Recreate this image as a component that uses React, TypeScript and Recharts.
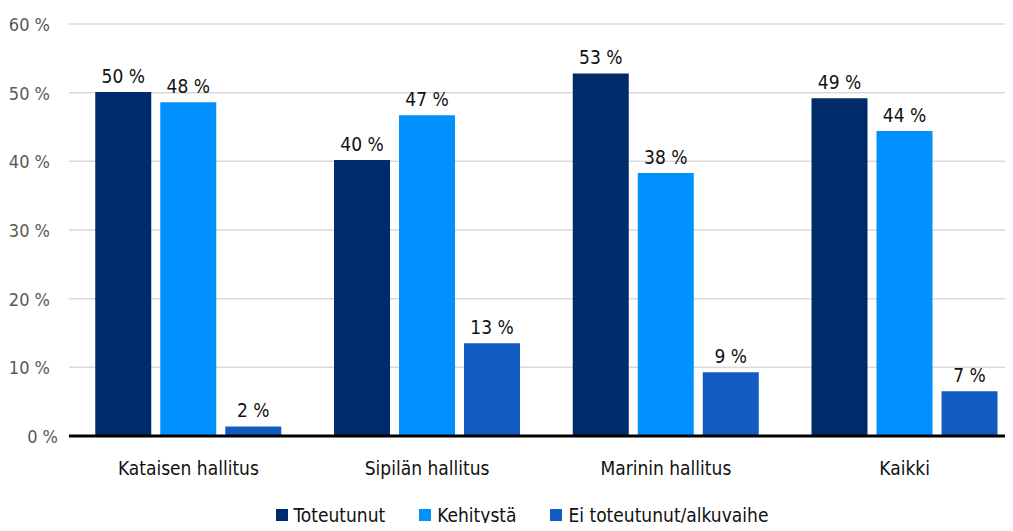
import { Bar, BarChart, CartesianGrid, LabelList, Legend, XAxis, YAxis } from 'recharts';

const governments = ['Kataisen hallitus', 'Sipilän hallitus', 'Marinin hallitus', 'Kaikki'];
const toteutunut = [50.1, 40.2, 52.8, 49.2];
const kehitysta = [48.6, 46.7, 38.3, 44.4];
const eiToteutunut = [1.4, 13.5, 9.3, 6.5];
const toteutunutLabels = ['50 %', '40 %', '53 %', '49 %'];
const kehitystaLabels = ['48 %', '47 %', '38 %', '44 %'];
const eiToteutunutLabels = ['2 %', '13 %', '9 %', '7 %'];
const yTicks = [0, 10, 20, 30, 40, 50, 60];

const FONT = '"Liberation Sans Narrow", "DejaVu Sans Condensed", "Roboto Condensed", "Noto Sans", sans-serif';

const series = [
  { key: 'toteutunut', name: 'Toteutunut', color: '#002b6b', values: toteutunut, labels: toteutunutLabels },
  { key: 'kehitysta', name: 'Kehitystä', color: '#0091ff', values: kehitysta, labels: kehitystaLabels },
  { key: 'eiToteutunut', name: 'Ei toteutunut/alkuvaihe', color: '#125bc0', values: eiToteutunut, labels: eiToteutunutLabels },
];

const data = governments.map((name, i) => ({
  name,
  toteutunut: toteutunut[i],
  kehitysta: kehitysta[i],
  eiToteutunut: eiToteutunut[i],
}));

function YTick({ x, y, payload }: { x?: number; y?: number; payload?: { value: number } }) {
  const v = payload?.value ?? 0;
  return (
    <text
      x={(x ?? 0) + (v === 0 ? 9 : 1)}
      y={y}
      dy={7}
      textAnchor="end"
      fontSize={18}
      fill="#595959"
      fontFamily={FONT}
    >
      {`${v} %`}
    </text>
  );
}

function BottomLegend() {
  return (
    <div
      style={{
        display: 'flex',
        justifyContent: 'center',
        gap: 34,
        paddingTop: 4,
        paddingLeft: 20,
        height: 20,
        lineHeight: '20px',
        fontFamily: FONT,
        fontSize: 19,
        color: '#111',
      }}
    >
      {series.map((s) => (
        <span key={s.key} style={{ display: 'flex', alignItems: 'center' }}>
          <span style={{ width: 12, height: 12, background: s.color, marginRight: 6, display: 'inline-block' }} />
          {s.name}
        </span>
      ))}
    </div>
  );
}

export default function App() {
  return (
    <div style={{ margin: -8, width: 1013, height: 531, background: '#fff' }}>
      <BarChart
        width={1013}
        height={531}
        data={data}
        margin={{ top: 24, right: -11, left: 0, bottom: 0 }}
        barCategoryGap="11%"
        barGap={9}
      >
        <CartesianGrid vertical={false} stroke="#d9d9d9" strokeWidth={1.5} />
        <XAxis
          dataKey="name"
          height={71}
          tickLine={false}
          axisLine={{ stroke: '#000', strokeWidth: 3 }}
          tick={{ fontSize: 19, fill: '#111', fontFamily: FONT }}
          tickMargin={20}
        />
        <YAxis
          domain={[0, 60]}
          ticks={yTicks}
          width={69}
          axisLine={false}
          tickLine={false}
          tickMargin={14}
          tick={<YTick />}
        />
        <Legend verticalAlign="bottom" wrapperStyle={{ bottom: 6 }} content={<BottomLegend />} />
        {series.map((s) => (
          <Bar key={s.key} dataKey={s.key} name={s.name} fill={s.color} isAnimationActive={false}>
            <LabelList
              dataKey={s.key}
              position="top"
              offset={9}
              style={{ fontSize: 19, fill: '#111', fontFamily: FONT }}
              formatter={(v: number) => s.labels[s.values.indexOf(v)]}
            />
          </Bar>
        ))}
      </BarChart>
    </div>
  );
}
